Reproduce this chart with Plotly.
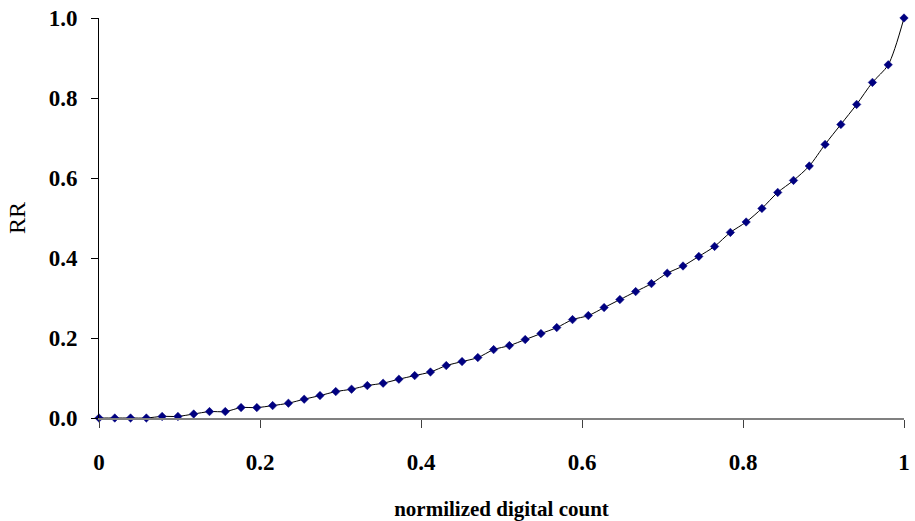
import plotly.graph_objects as go

# digital counts (0..255 step 5) and normalized values
digital_counts = [0, 5, 10, 15, 20, 25, 30, 35, 40, 45, 50, 55, 60, 65, 70, 75, 80, 85,
                  90, 95, 100, 105, 110, 115, 120, 125, 130, 135, 140, 145, 150, 155, 160,
                  165, 170, 175, 180, 185, 190, 195, 200, 205, 210, 215, 220, 225, 230, 235,
                  240, 245, 250, 255]
max_count = 255
rr_values = [0.0, 0.0, 0.0, 0.0, 0.004, 0.004, 0.010, 0.016, 0.016, 0.026, 0.026, 0.031,
             0.037, 0.047, 0.056, 0.066, 0.072, 0.081, 0.087, 0.097, 0.106, 0.115, 0.131,
             0.141, 0.151, 0.171, 0.181, 0.196, 0.211, 0.226, 0.246, 0.256, 0.276, 0.296,
             0.316, 0.336, 0.362, 0.380, 0.404, 0.429, 0.464, 0.490, 0.524, 0.564, 0.594,
             0.630, 0.684, 0.734, 0.784, 0.839, 0.883, 1.0]

x_tick_vals = [0, 0.2, 0.4, 0.6, 0.8, 1.0]
x_tick_text = ["0", "0.2", "0.4", "0.6", "0.8", "1"]
y_tick_vals = [0, 0.2, 0.4, 0.6, 0.8, 1.0]
y_tick_text = ["0.0", "0.2", "0.4", "0.6", "0.8", "1.0"]

x_norm = [c / max_count for c in digital_counts]

serif = "Liberation Serif, Times New Roman, serif"

fig = go.Figure()
fig.add_trace(go.Scatter(
    x=x_norm, y=rr_values, mode="lines+markers",
    line=dict(color="black", width=1, shape="spline", smoothing=0.8),
    marker=dict(symbol="diamond", size=6.5, color="#000080",
                line=dict(color="#000080", width=0.5)),
    cliponaxis=False, showlegend=False,
))

fig.update_layout(
    width=915, height=521,
    margin=dict(l=99, r=11, t=18, b=103),
    paper_bgcolor="white", plot_bgcolor="white",
    font=dict(family=serif, color="black"),
)
fig.update_xaxes(
    range=[0, 1], tickvals=x_tick_vals, ticktext=x_tick_text,
    automargin=False,
    showgrid=False, zeroline=False,
    showline=True, linecolor="#808080", linewidth=2,
    ticks="outside", ticklen=8, tickcolor="#404040", tickwidth=1,
    tickfont=dict(family=serif, size=23, color="black", weight="bold"),
    ticklabelstandoff=14,
    title=dict(text="normilized digital count",
               font=dict(family=serif, size=21, color="black", weight="bold"),
               standoff=28),
)
fig.update_yaxes(
    range=[0, 1], tickvals=y_tick_vals, ticktext=y_tick_text,
    automargin=False,
    showgrid=False, zeroline=False,
    showline=True, linecolor="black", linewidth=1,
    ticks="outside", ticklen=7, tickcolor="black", tickwidth=1,
    tickfont=dict(family=serif, size=23, color="black", weight="bold"),
    ticklabelstandoff=9,
    title=dict(text="RR", font=dict(family=serif, size=24, color="black"),
               standoff=16),
)

fig.write_html("out.html",
               config={"displayModeBar": False},
               post_script="document.body.style.margin='0';document.body.style.overflow='hidden';")
